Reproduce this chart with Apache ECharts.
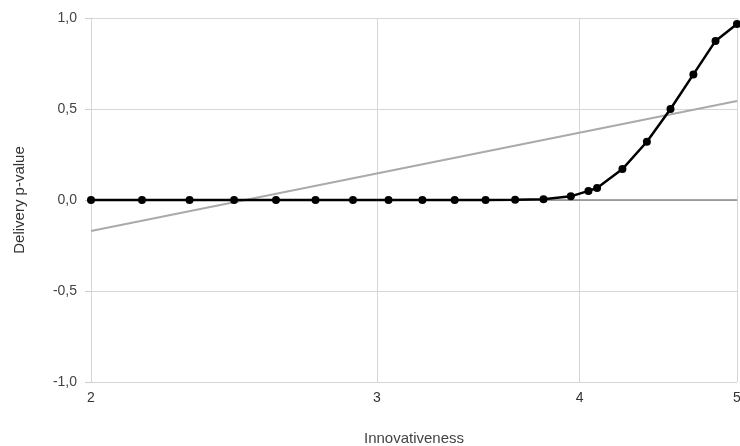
<!DOCTYPE html>
<html>
<head>
<meta charset="utf-8">
<script src="https://cdn.jsdelivr.net/npm/echarts@6/dist/echarts.min.js"></script>
<style>
  html, body { margin: 0; padding: 0; background: #fff; }
  #chart { width: 740px; height: 446px; }
</style>
</head>
<body>
<div id="chart"></div>
<script>
// innovativeness values and fitted p-values
var innovX = [2.0, 2.15, 2.3, 2.45, 2.6, 2.75, 2.9, 3.05, 3.2, 3.35, 3.5, 3.65, 3.8, 3.95, 4.05, 4.1, 4.25, 4.4, 4.55, 4.7, 4.85, 5.0];
var pValue = [0, 0, 0, 0, 0, 0, 0, 0, 0, 0, 0, 0.001, 0.004, 0.02, 0.05, 0.066, 0.17, 0.32, 0.5, 0.69, 0.874, 0.967];
// linear trend (straight on the log axis)
var trendX = [2, 5];
var trendY = [-0.17, 0.544];
var xTicks = [2, 3, 4, 5];

var chart = echarts.init(document.getElementById('chart'));

function pairs(xs, ys) {
  return xs.map(function (x, i) { return [x, ys[i]]; });
}

var option = {
  animation: false,
  textStyle: { fontFamily: '"Liberation Sans", Arial, sans-serif' },
  grid: { left: 91, right: 3, top: 18, bottom: 64, outerBoundsMode: 'none', containLabel: false },
  xAxis: {
    type: 'log',
    logBase: 10,
    min: 2,
    max: 5,
    name: 'Innovativeness',
    nameLocation: 'middle',
    nameGap: 49,
    nameTextStyle: { color: '#444', fontSize: 15 },
    axisLine: { show: true, lineStyle: { color: '#ccc', width: 1 } },
    axisTick: { show: false, customValues: xTicks },
    axisLabel: { color: '#333', fontSize: 14, margin: 9, customValues: xTicks,
      formatter: function (v) { return String(Math.round(v)); } },
    splitLine: { show: true, lineStyle: { color: '#d6d6d6', width: 1 } },
    minorTick: { show: false },
    minorSplitLine: { show: false }
  },
  yAxis: {
    type: 'value',
    min: -1,
    max: 1,
    interval: 0.5,
    name: 'Delivery p-value',
    nameLocation: 'middle',
    nameGap: 64,
    nameTextStyle: { color: '#333', fontSize: 15 },
    axisLine: { show: true, lineStyle: { color: '#d6d6d6' } },
    axisTick: { show: true, length: 6, lineStyle: { color: '#ccc' } },
    axisLabel: { color: '#444', fontSize: 14, margin: 14,
      formatter: function (v) { return v.toFixed(1).replace('.', ','); } },
    splitLine: { show: true, lineStyle: { color: '#d6d6d6', width: 1 } }
  },
  series: [
    {
      name: 'zero',
      type: 'line',
      data: [],
      z: 1,
      markLine: {
        silent: true,
        symbol: 'none',
        label: { show: false },
        lineStyle: { color: '#888', width: 1.5, type: 'solid' },
        data: [{ yAxis: 0 }]
      }
    },
    {
      name: 'trend',
      type: 'line',
      data: pairs(trendX, trendY),
      symbol: 'none',
      lineStyle: { color: '#aaa', width: 2 },
      z: 2
    },
    {
      name: 'p-value',
      type: 'line',
      data: pairs(innovX, pValue),
      symbol: 'circle',
      symbolSize: 8,
      itemStyle: { color: '#000' },
      lineStyle: { color: '#000', width: 2.5 },
      z: 10
    }
  ]
};
chart.setOption(option);
</script>
</body>
</html>
